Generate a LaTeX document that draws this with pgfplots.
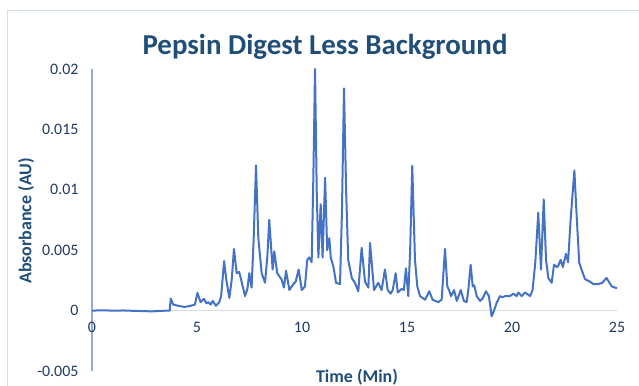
\documentclass[border=0pt]{standalone}
\usepackage{pgfplots}
\pgfplotsset{compat=1.18}
\usepackage{fontspec}
\setmainfont{Carlito}
\definecolor{serieslc}{HTML}{4472C4}
\definecolor{titlec}{HTML}{1F4E79}
\definecolor{tickc}{HTML}{1F3864}
\definecolor{yaxc}{HTML}{8FAADC}
\definecolor{xaxc}{HTML}{D6DCE5}
\definecolor{borderc}{HTML}{D0DEF0}
\begin{document}
\begin{tikzpicture}
\path[use as bounding box] (0,0) rectangle (639bp,386bp);
\draw[borderc, line width=0.8bp] (7bp,-5bp) rectangle (645bp,376bp);
\node[font=\bfseries\fontsize{29}{34}\selectfont, text=titlec] at (325bp,339bp) {Pepsin Digest Less Background};
\node[font=\bfseries\fontsize{18}{21}\selectfont, text=titlec] at (357bp,9bp) {Time (Min)};
\node[font=\bfseries\fontsize{18}{21}\selectfont, text=titlec, rotate=90] at (26bp,165bp) {Absorbance (AU)};
\begin{axis}[
  at={(92bp,15bp)}, anchor=south west,
  scale only axis, width=525bp, height=302bp,
  xmin=0, xmax=25, ymin=-0.005, ymax=0.02,
  axis x line=middle, axis y line=left,
  hide obscured x ticks=false,
  scaled y ticks=false,
  x axis line style={-, draw=xaxc, line width=1.2bp},
  y axis line style={-, draw=yaxc, line width=1.2bp},
  major tick length=0pt,
  xtick={0,5,10,15,20,25},
  xticklabels={0,5,10,15,20,25},
  ytick={-0.005,0,0.005,0.01,0.015,0.02},
  yticklabels={-0.005,0,0.005,0.01,0.015,0.02},
  ticklabel style={font=\fontsize{16}{19}\selectfont, text=tickc},
  xticklabel style={anchor=north, yshift=-8bp},
  yticklabel style={anchor=east, xshift=-10bp},
  clip=false,
]
\addplot[serieslc, line width=2bp, line join=round] table {
0 0
0.5 0.00002
1.0 0
1.5 0.00001
2.0 -0.00002
2.5 -0.00005
2.9 -0.00006
3.3 -0.00002
3.7 0
3.75 0.001
3.87 0.0005
4.1 0.0004
4.4 0.0003
4.7 0.0004
4.9 0.0005
5.02 0.00147
5.17 0.0007
5.33 0.00097
5.45 0.0006
5.54 0.0007
5.65 0.0005
5.75 0.0008
5.9 0.0004
6.06 0.0007
6.15 0.0012
6.29 0.0041
6.4 0.0025
6.54 0.00105
6.65 0.0025
6.76 0.0051
6.89 0.0031
7.01 0.0032
7.15 0.0022
7.29 0.0012
7.4 0.0018
7.49 0.0031
7.6 0.0019
7.7 0.006
7.81 0.01203
7.92 0.006
8.08 0.0031
8.24 0.0023
8.35 0.0045
8.44 0.0075
8.52 0.0055
8.6 0.0034
8.68 0.0049
8.82 0.0031
9.03 0.00257
9.14 0.0019
9.24 0.0033
9.4 0.0017
9.59 0.0022
9.7 0.0024
9.84 0.0034
9.99 0.0017
10.14 0.0020
10.25 0.0042
10.35 0.0044
10.46 0.0040
10.54 0.011
10.62 0.0200
10.7 0.010
10.78 0.0044
10.89 0.0088
10.98 0.0044
11.1 0.0110
11.2 0.005
11.3 0.0060
11.37 0.0044
11.5 0.0036
11.62 0.0023
11.81 0.0022
11.9 0.008
12.0 0.0184
12.1 0.010
12.2 0.0042
12.37 0.0027
12.52 0.0023
12.68 0.0016
12.84 0.0052
13.0 0.0024
13.16 0.0019
13.24 0.0056
13.43 0.0017
13.63 0.0023
13.79 0.0017
13.95 0.0034
14.08 0.0017
14.22 0.0014
14.32 0.0017
14.46 0.0031
14.56 0.0015
14.75 0.0018
14.85 0.0017
14.95 0.0035
15.06 0.0012
15.15 0.005
15.25 0.01198
15.38 0.0042
15.49 0.002
15.62 0.0012
15.86 0.0009
16.06 0.0016
16.22 0.0009
16.49 0.0007
16.65 0.0009
16.81 0.0051
16.92 0.002
17.0 0.0017
17.1 0.0012
17.24 0.0017
17.37 0.0008
17.56 0.0017
17.71 0.0008
17.84 0.0007
17.92 0.0017
18.03 0.0038
18.13 0.002
18.2 0.0021
18.32 0.0012
18.48 0.0008
18.6 0.001
18.76 0.0016
18.9 0.0012
19.03 -0.00047
19.1 -0.0002
19.27 0.00064
19.43 0.0012
19.55 0.0011
19.67 0.0012
19.9 0.0012
20.06 0.0014
20.22 0.0012
20.3 0.0015
20.46 0.0012
20.62 0.0015
20.86 0.0012
20.98 0.0017
21.11 0.004
21.25 0.0081
21.38 0.0034
21.51 0.0092
21.62 0.0042
21.73 0.0027
21.89 0.0023
22.0 0.0038
22.14 0.0036
22.2 0.0037
22.32 0.0042
22.42 0.0036
22.57 0.0047
22.67 0.0040
22.79 0.0075
22.97 0.0116
23.08 0.0078
23.2 0.004
23.33 0.0033
23.48 0.0026
23.71 0.0024
23.87 0.0022
24.11 0.0022
24.3 0.0023
24.5 0.0027
24.75 0.002
25.0 0.00185
};
\end{axis}
\end{tikzpicture}
\end{document}
